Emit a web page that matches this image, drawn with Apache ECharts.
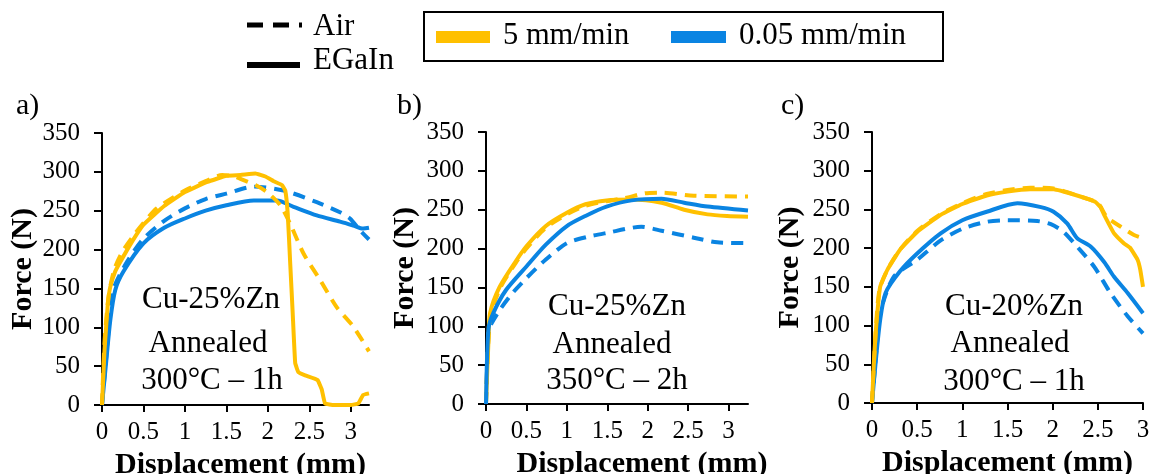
<!DOCTYPE html>
<html>
<head>
<meta charset="utf-8">
<script src="https://cdn.jsdelivr.net/npm/echarts@6/dist/echarts.min.js"></script>
<style>html,body{margin:0;padding:0;background:#fff;}#c{width:1153px;height:474px;}</style>
</head>
<body>
<div id="c"></div>
<script>
// ---- tick labels ----
const xTicks = [0, 0.5, 1, 1.5, 2, 2.5, 3];
const yTicks = [0, 50, 100, 150, 200, 250, 300, 350];
const panelLabels = ['a)', 'b)', 'c)'];
const panelNotes = [
  ['Cu-25%Zn', 'Annealed', '300°C – 1h'],
  ['Cu-25%Zn', 'Annealed', '350°C – 2h'],
  ['Cu-20%Zn', 'Annealed', '300°C – 1h']
];
const speedNames = ['5 mm/min', '0.05 mm/min'];
const mediumNames = ['Air', 'EGaIn'];

// ---- panel a: Cu-25%Zn, 300°C – 1h ----
const aFastEGaIn = [[0,0],[0.03,70],[0.07,130],[0.1,152],[0.16,172],[0.22,184],[0.35,208],[0.5,232],[0.75,256],[1.0,274],[1.27,287],[1.5,295],[1.67,296],[1.85,298],[1.97,294],[2.07,288],[2.17,283],[2.21,276],[2.24,246],[2.27,182],[2.30,118],[2.33,54],[2.37,42],[2.45,38],[2.6,32],[2.65,20],[2.69,2],[2.8,0],[3.0,0],[3.09,2],[3.15,13],[3.22,15]];
const aFastAir = [[0,0],[0.03,80],[0.08,140],[0.15,175],[0.25,198],[0.38,218],[0.5,234],[0.66,253],[1.0,276],[1.25,288],[1.45,296],[1.6,294],[1.67,291],[1.85,283],[1.99,274],[2.15,257],[2.27,233],[2.43,195],[2.63,161],[2.83,126],[3.03,101],[3.22,69]];
const aSlowEGaIn = [[0,0],[0.05,55],[0.1,109],[0.16,148],[0.26,172],[0.5,208],[0.75,228],[1.0,240],[1.25,250],[1.5,257],[1.83,263],[2.11,263],[2.31,255],[2.59,244],[2.87,236],[3.03,231],[3.15,227],[3.22,228]];
const aSlowAir = [[0,0],[0.05,60],[0.1,120],[0.14,150],[0.3,184],[0.5,214],[0.75,237],[1.0,253],[1.25,265],[1.5,272],[1.83,281],[2.19,276],[2.59,261],[2.87,248],[2.99,240],[3.11,225],[3.22,213]];

// ---- panel b: Cu-25%Zn, 350°C – 2h ----
const bFastEGaIn = [[0,0],[0.03,80],[0.05,117],[0.17,151],[0.37,184],[0.5,203],[0.74,229],[1.0,246],[1.23,257],[1.49,262],[1.8,263],[2.17,259],[2.45,250],[2.74,244],[2.98,242],[3.24,241]];
const bFastAir = [[0,0],[0.05,110],[0.17,148],[0.37,182],[0.5,200],[0.74,227],[1.0,244],[1.23,255],[1.49,261],[1.72,265],[1.96,271],[2.17,272],[2.57,268],[3.24,267]];
const bSlowEGaIn = [[0,0],[0.03,96],[0.09,117],[0.25,147],[0.5,177],[0.74,205],[1.0,229],[1.23,242],[1.49,254],[1.8,262],[2.17,264],[2.45,259],[2.74,254],[3.24,249]];
const bSlowAir = [[0,0],[0.03,90],[0.05,100],[0.17,121],[0.33,143],[0.5,162],[0.74,186],[1.0,207],[1.25,215],[1.49,220],[1.92,228],[2.17,223],[2.57,214],[2.86,208],[3.24,207]];

// ---- panel c: Cu-20%Zn, 300°C – 1h ----
const cFastEGaIn = [[0,0],[0.02,50],[0.04,90],[0.09,150],[0.17,172],[0.31,198],[0.5,221],[0.76,243],[1.0,257],[1.27,268],[1.5,273],[1.75,276],[2.01,276],[2.27,268],[2.47,260],[2.53,253],[2.57,243],[2.68,219],[2.79,206],[2.86,200],[2.94,185],[2.97,172],[3.0,150]];
const cFastAir = [[0,0],[0.03,70],[0.08,145],[0.17,172],[0.31,198],[0.5,222],[0.76,244],[1.0,258],[1.27,270],[1.5,275],[1.75,278],[2.01,277],[2.27,268],[2.5,258],[2.6,240],[2.75,228],[2.9,217],[3.0,213]];
const cSlowEGaIn = [[0,0],[0.04,52],[0.09,107],[0.15,142],[0.31,170],[0.5,193],[0.76,219],[1.0,236],[1.27,247],[1.61,258],[1.87,253],[2.01,247],[2.16,232],[2.27,213],[2.42,202],[2.57,182],[2.68,163],[2.83,142],[3.0,116]];
const cSlowAir = [[0,0],[0.05,70],[0.09,116],[0.24,163],[0.5,185],[0.76,210],[1.0,225],[1.27,234],[1.5,236],[1.83,235],[1.98,231],[2.12,221],[2.27,202],[2.46,176],[2.64,142],[2.83,112],[3.0,90]];

const xMax = [3.22, 3.24, 3.0];
const panelData = [
  [aSlowEGaIn, aSlowAir, aFastEGaIn, aFastAir],
  [bSlowAir, bFastAir, bFastEGaIn, bSlowEGaIn],
  [cSlowEGaIn, cSlowAir, cFastEGaIn, cFastAir]
];
const panelKinds = [
  [['slow','EGaIn'],['slow','Air'],['fast','EGaIn'],['fast','Air']],
  [['slow','Air'],['fast','Air'],['fast','EGaIn'],['slow','EGaIn']],
  [['slow','EGaIn'],['slow','Air'],['fast','EGaIn'],['fast','Air']]
];
const sharpSeries = [aFastEGaIn, cFastEGaIn];

const YELLOW = '#FFC000';
const BLUE = '#0A84E2';
const FONT = '"Liberation Serif", "Times New Roman", serif';

const grids = [
  {left: 102, top: 133, width: 267, height: 272},
  {left: 486, top: 132, width: 262, height: 272},
  {left: 872, top: 132, width: 271, height: 271}
];
const yNameGap = [62, 66, 67];
const xNamePad = [[0,0,0,10],[0,0,0,50],[0,0,0,0]];

const option = {
  animation: false,
  backgroundColor: '#fff',
  grid: grids.map(g => Object.assign({containLabel: false, outerBoundsMode: 'none'}, g)),
  xAxis: grids.map((g, i) => ({
    type: 'value', gridIndex: i, min: 0, max: xMax[i],
    name: 'Displacement (mm)', nameLocation: 'middle', nameGap: 40,
    nameTextStyle: {fontFamily: FONT, fontWeight: 'bold', fontSize: 30, color: '#000', padding: xNamePad[i]},
    axisLine: {show: true, onZero: false, lineStyle: {color: '#000', width: 2}},
    axisTick: {show: true, length: 7, customValues: xTicks, lineStyle: {color: '#000', width: 2}},
    axisLabel: {customValues: xTicks, margin: 15, fontFamily: FONT, fontSize: 25, color: '#000'},
    splitLine: {show: false}
  })),
  yAxis: grids.map((g, i) => ({
    type: 'value', gridIndex: i, min: 0, max: 350, interval: 50,
    name: 'Force (N)', nameLocation: 'middle', nameGap: yNameGap[i],
    nameTextStyle: {fontFamily: FONT, fontWeight: 'bold', fontSize: 30, color: '#000'},
    axisLine: {show: true, lineStyle: {color: '#000', width: 2}},
    axisTick: {show: true, length: 8, customValues: yTicks, lineStyle: {color: '#000', width: 2}},
    axisLabel: {customValues: yTicks, margin: 22, fontFamily: FONT, fontSize: 25, color: '#000'},
    splitLine: {show: false}
  })),
  series: [],
  graphic: []
};

panelData.forEach((arr, p) => {
  arr.forEach((d, k) => {
    const [speed, medium] = panelKinds[p][k];
    option.series.push({
      type: 'line', xAxisIndex: p, yAxisIndex: p,
      name: (speed === 'fast' ? speedNames[0] : speedNames[1]) + ' ' + medium,
      data: d, showSymbol: false,
      smooth: sharpSeries.includes(d) ? 0.1 : 0.25,
      lineStyle: {color: speed === 'fast' ? YELLOW : BLUE, width: 4,
                  type: medium === 'Air' ? [12, 8] : 'solid', join: 'round'},
      clip: true
    });
  });
});

// panel labels
const labelPos = [[16, 106], [397, 106], [781, 106]];
panelLabels.forEach((t, i) => {
  option.graphic.push({type: 'text', x: labelPos[i][0], y: labelPos[i][1],
    style: {text: t, fontFamily: FONT, fontSize: 30, fill: '#000', textAlign: 'left', textVerticalAlign: 'middle'}});
});
// notes
const noteX = [[211, 208, 212], [617, 612, 617], [1014, 1010, 1014]];
const noteY = [[300, 344, 381], [307, 345, 381], [307, 344, 382]];
panelNotes.forEach((lines, p) => {
  lines.forEach((t, j) => {
    option.graphic.push({type: 'text', x: noteX[p][j], y: noteY[p][j],
      style: {text: t, fontFamily: FONT, fontSize: 31, fill: '#000', textAlign: 'center', textVerticalAlign: 'middle'}});
  });
});
// legend: line styles
option.graphic.push(
  {type: 'line', shape: {x1: 247, y1: 25, x2: 302, y2: 25}, style: {stroke: '#000', lineWidth: 5, lineDash: [16, 10]}},
  {type: 'text', x: 313, y: 27, style: {text: mediumNames[0], fontFamily: FONT, fontSize: 31, fill: '#000', textVerticalAlign: 'middle'}},
  {type: 'line', shape: {x1: 247, y1: 65, x2: 300, y2: 65}, style: {stroke: '#000', lineWidth: 6}},
  {type: 'text', x: 313, y: 61, style: {text: mediumNames[1], fontFamily: FONT, fontSize: 31, fill: '#000', textVerticalAlign: 'middle'}},
  {type: 'rect', shape: {x: 424, y: 12, width: 519, height: 49}, style: {fill: 'none', stroke: '#000', lineWidth: 2}},
  {type: 'rect', shape: {x: 436, y: 31, width: 54, height: 12}, style: {fill: YELLOW}},
  {type: 'text', x: 503, y: 36, style: {text: speedNames[0], fontFamily: FONT, fontSize: 30.5, fill: '#000', textVerticalAlign: 'middle'}},
  {type: 'rect', shape: {x: 671, y: 31, width: 55, height: 12}, style: {fill: BLUE}},
  {type: 'text', x: 739, y: 36, style: {text: speedNames[1], fontFamily: FONT, fontSize: 31, fill: '#000', textVerticalAlign: 'middle'}}
);

const chart = echarts.init(document.getElementById('c'), null, {renderer: 'canvas'});
chart.setOption(option);
</script>
</body>
</html>
